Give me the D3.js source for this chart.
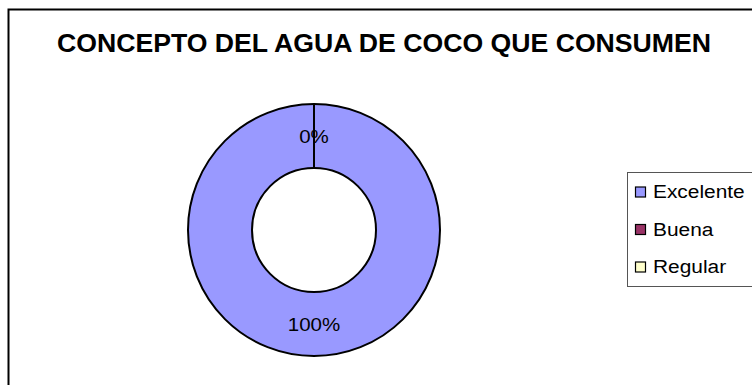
<!DOCTYPE html>
<html><head><meta charset="utf-8">
<script src="https://cdn.jsdelivr.net/npm/d3@7"></script>
<style>html,body{margin:0;padding:0;background:#fff;}svg{display:block;}</style>
</head><body>
<script>
const title = "CONCEPTO DEL AGUA DE COCO QUE CONSUMEN";
const categories = ["Excelente", "Buena", "Regular"];
const values = [100, 0, 0];
const colors = ["#9999FF", "#993366", "#FFFFCC"];

const W = 752, H = 385;
const FONT = "Liberation Sans, Arial, sans-serif";
const svg = d3.select("body").append("svg").attr("width", W).attr("height", H);
svg.append("rect").attr("width", W).attr("height", H).attr("fill", "#fff");
svg.append("rect").attr("x", 8.5).attr("y", 9.5).attr("width", W + 20).attr("height", H + 20)
  .attr("fill", "none").attr("stroke", "#000").attr("stroke-width", 2);

svg.append("text").attr("x", 384).attr("y", 52).attr("text-anchor", "middle")
  .attr("font-family", FONT).attr("font-weight", "bold")
  .attr("font-size", 26).attr("textLength", 654).attr("lengthAdjust", "spacingAndGlyphs")
  .text(title);

const cx = 314, cy = 230, R = 126, r = 62;
const color = d3.scaleOrdinal().domain(categories).range(colors);
const pie = d3.pie().sort(null).value(d => d.v);
const data = categories.map((c, i) => ({c, v: values[i]}));
const arcs = pie(data);
const arc = d3.arc().innerRadius(r).outerRadius(R);
const g = svg.append("g").attr("transform", `translate(${cx},${cy})`);
g.selectAll("path").data(arcs).join("path")
  .attr("d", arc).attr("fill", d => color(d.data.c))
  .attr("stroke", "#000").attr("stroke-width", 2).attr("stroke-linejoin", "round");

const total = d3.sum(values);
const rr = (R + r) / 2;
const shown = arcs.filter((d, i) => i < 2);
g.selectAll("text.lbl").data(shown).join("text").attr("class", "lbl")
  .attr("transform", d => {
    const a = (d.startAngle + d.endAngle) / 2;
    return `translate(${Math.sin(a) * rr},${-Math.cos(a) * rr}) scale(1.08,1)`;
  })
  .attr("text-anchor", "middle").attr("dy", "0.36em")
  .attr("font-family", FONT).attr("font-size", 19)
  .attr("fill", "#000")
  .text(d => Math.round(d.data.v / total * 100) + "%");

const leg = svg.append("g");
leg.append("rect").attr("x", 627.5).attr("y", 172.5).attr("width", 140).attr("height", 114)
  .attr("fill", "#fff").attr("stroke", "#555").attr("stroke-width", 1);
const ly = d3.scalePoint().domain(categories).range([192, 267]);
categories.forEach(c => {
  leg.append("rect").attr("x", 635.5).attr("y", ly(c) - 5).attr("width", 10).attr("height", 10)
    .attr("fill", color(c)).attr("stroke", "#000").attr("stroke-width", 1.2);
  leg.append("text").attr("transform", `translate(653,${ly(c)}) scale(1.16,1)`).attr("dy", "0.36em")
    .attr("font-family", FONT).attr("font-size", 18)
    .text(c);
});
</script>
</body></html>
